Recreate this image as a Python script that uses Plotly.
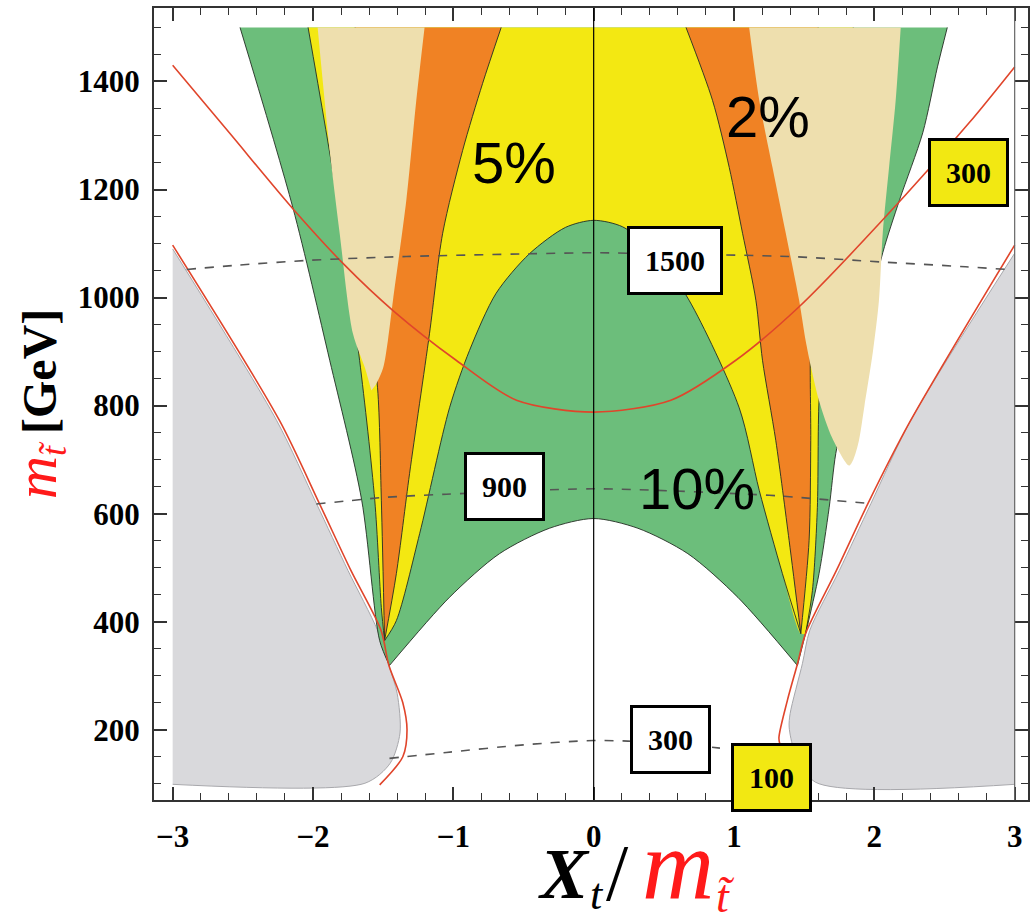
import plotly.graph_objects as go

# ---------------- boundary curves (x = X_t/m, y = m_stop in GeV) ----------
# green region: outer left / right edges and lower dome edge
A_L_x = [-2.52, -2.144, -1.881, -1.653, -1.525, -1.455]
A_L_y = [1500, 1167, 884, 625, 365, 319]
A_R_x = [2.52, 2.45, 2.345, 2.18, 2.06, 1.93, 1.80, 1.725, 1.678, 1.606, 1.52, 1.452]
A_R_y = [1500, 1427, 1305, 1181, 1083, 940, 800, 711, 611, 489, 389, 319]
F_x = [-1.455, -1.028, -0.671, -0.315, 0.0, 0.315, 0.671, 1.028, 1.452]
F_y = [319, 445, 526, 573, 591, 573, 526, 445, 319]

# yellow region: outer edges and upper edge of the central green dome
B_L_x = [-2.035, -1.834, -1.668, -1.56, -1.513, -1.49]
B_L_y = [1500, 1193, 884, 625, 426, 365]
B_R_x = [1.51, 1.559, 1.594, 1.606, 1.65, 1.75, 1.85]
B_R_y = [378, 458, 611, 809, 950, 1100, 1500]
E_x = [-1.49, -1.406, -1.24, -1.027, -0.885, -0.695, -0.458, -0.2, 0.0, 0.206, 0.444, 0.68, 1.037, 1.18, 1.345, 1.476]
E_y = [365, 402, 563, 796, 902, 1008, 1081, 1130, 1143, 1131, 1082, 995, 796, 643, 489, 378]

# orange bands
D_L_x = [-0.659, -0.792, -0.934, -1.076, -1.17, -1.312, -1.406, -1.49]
D_L_y = [1500, 1396, 1272, 1119, 933, 674, 489, 365]
O_L_x = [-1.49, -1.513, -1.54, -1.62, -1.70]
O_L_y = [365, 625, 833, 1000, 1500]
D_R_x = [0.658, 0.847, 0.966, 1.061, 1.156, 1.203, 1.298, 1.393, 1.476]
D_R_y = [1500, 1365, 1241, 1119, 995, 884, 735, 550, 378]
O_R_x = [1.476, 1.535, 1.547, 1.547, 1.60, 1.60]
O_R_y = [378, 550, 735, 921, 1050, 1500]

# beige regions
C1_L_x = [-1.967, -1.881, -1.81, -1.715, -1.63, -1.584]
C1_L_y = [1500, 1272, 1119, 933, 870, 828]
C2_L_x = [-1.584, -1.55, -1.50, -1.466, -1.43, -1.335, -1.264, -1.205]
C2_L_y = [828, 840, 870, 921, 995, 1180, 1365, 1500]
C2_R_x = [1.108, 1.18, 1.274, 1.369, 1.464, 1.51, 1.55, 1.606, 1.70, 1.82]
C2_R_y = [1500, 1365, 1241, 1119, 995, 921, 870, 809, 740, 689]
C1_R_x = [1.85, 1.89, 1.93, 1.99, 2.033, 2.06, 2.105, 2.152, 2.188]
C1_R_y = [700, 735, 800, 900, 995, 1119, 1241, 1365, 1500]

# grey excluded regions
G_L_x = [-3.0, -2.26, -1.976, -1.751, -1.54, -1.46, -1.40, -1.38, -1.45, -1.63, -3.0]
G_L_y = [1090, 773, 619, 495, 384, 320, 267, 194, 138, 101, 99]
G_R_x = [3.0, 2.26, 1.976, 1.751, 1.54, 1.488, 1.40, 1.393, 1.43, 1.58, 3.0]
G_R_y = [1082, 773, 619, 495, 384, 323, 230, 205, 162, 103, 99]

# red curves
RU_x = [-3.0, -2.593, -2.142, -1.774, -1.43, -0.98, -0.55, 0.0, 0.55, 1.013, 1.464, 2.057, 2.674, 3.0]
RU_y = [1430, 1304, 1164, 1060, 976, 884, 810, 788, 810, 884, 983, 1143, 1323, 1427]
RL_x = [-3.0, -2.24, -1.955, -1.73, -1.515, -1.46, -1.36, -1.33, -1.36, -1.525]
RL_y = [1097, 773, 619, 495, 384, 320, 250, 200, 150, 98]
RR_x = [3.0, 2.247, 1.955, 1.73, 1.51, 1.45, 1.38, 1.32, 1.33, 1.36]
RR_y = [1097, 767, 619, 495, 378, 320, 254, 185, 170, 140]

# dashed contours
K1500_x = [-2.9, -2.534, -2.023, -1.335, -0.458, 0.0, 0.458, 1.393, 2.045, 2.65, 2.95]
K1500_y = [1052, 1060, 1069, 1076, 1081, 1083, 1081, 1076, 1066, 1057, 1052]
K900_x = [-1.976, -1.738, -1.5, -1.05, 0.0, 1.25, 1.464, 1.96]
K900_y = [618, 624, 630, 636, 646, 634, 630, 619]
K300_x = [-1.455, -1.05, -0.5, 0.0, 0.5, 0.9]
K300_y = [147, 158, 172, 180, 176, 166]

# labels
box_text = ["1500", "900", "300", "300", "100"]
box_x = [0.58, -0.635, 0.546, 2.674, 1.27]
box_y = [1069, 650, 182, 1231, 112]
box_bg = ["white", "white", "white", "#F2E812", "#F2E812"]
pct_text = ["5%", "2%", "10%"]
pct_x = [-0.57, 1.243, 0.737]
pct_y = [1250, 1336, 647]

# x-axis title pieces: text, size, colour, bold, italic, paper x (left), paper y (middle)
xt_text = ["X", "t", "/", "m", "t\u0303"]
xt_size = [72, 44, 80, 100, 46]
xt_color = ["black", "black", "black", "#FF1A1A", "#FF1A1A"]
xt_bold = [True, False, False, False, False]
xt_italic = [True, True, False, True, True]
xt_px = [0.4316, 0.4909, 0.5092, 0.5503, 0.6348]
xt_py = [-0.0931, -0.1199, -0.0922, -0.0811, -0.1219]

GREEN = "#6CBE7B"
YELLOW = "#F3E812"
ORANGE = "#F08224"
BEIGE = "#EEDFAE"
GREY = "#D9D9DC"
RED = "#E0452B"
EDGE = "rgba(35,45,35,0.9)"
SM = 0.8

fig = go.Figure()


def poly(xs, ys, color, line_color=None, lw=0):
    fig.add_trace(go.Scatter(x=xs, y=ys, mode="lines", fill="toself", fillcolor=color,
                             line=dict(color=line_color or color, width=lw, shape="spline",
                                       smoothing=SM),
                             hoverinfo="skip", showlegend=False))


def curve(xs, ys, color, width=1.0, dash="solid"):
    fig.add_trace(go.Scatter(x=xs, y=ys, mode="lines",
                             line=dict(color=color, width=width, dash=dash, shape="spline",
                                       smoothing=SM),
                             hoverinfo="skip", showlegend=False))


# grey regions (bottom layer)
poly(G_L_x, G_L_y, GREY, "#A8A8AC", 1)
poly(G_R_x, G_R_y, GREY, "#A8A8AC", 1)

# green
poly(A_L_x + F_x + A_R_x[::-1], A_L_y + F_y + A_R_y[::-1], GREEN)
# yellow
poly(B_L_x + E_x + B_R_x, B_L_y + E_y + B_R_y, YELLOW)
# orange
poly(D_L_x + O_L_x, D_L_y + O_L_y, ORANGE)
poly(D_R_x + O_R_x, D_R_y + O_R_y, ORANGE)

# region edges
for cx, cy in [(A_L_x, A_L_y), (A_R_x, A_R_y), (F_x, F_y), (B_L_x, B_L_y), (B_R_x, B_R_y),
               (E_x, E_y), (D_L_x, D_L_y), (O_L_x, O_L_y), (D_R_x, D_R_y), (O_R_x, O_R_y)]:
    curve(cx, cy, EDGE, 1.0)

# beige on top
poly(C1_L_x + C2_L_x, C1_L_y + C2_L_y, BEIGE)
poly(C2_R_x + C1_R_x, C2_R_y + C1_R_y, BEIGE)

# red curves
curve(RU_x, RU_y, RED, 1.6)
curve(RL_x, RL_y, RED, 1.6)
curve(RR_x, RR_y, RED, 1.6)

# dashed contours
for cx, cy in [(K1500_x, K1500_y), (K900_x, K900_y), (K300_x, K300_y)]:
    curve(cx, cy, "#555555", 1.6, dash="dash")

# vertical lines
fig.add_shape(type="line", x0=0, x1=0, y0=0, y1=1, xref="x", yref="paper",
              line=dict(color="black", width=1.2))
fig.add_shape(type="line", x0=3, x1=3, y0=0, y1=1, xref="x", yref="paper",
              line=dict(color="#666666", width=1.2))

# boxed contour labels
for t, x, y, bg in zip(box_text, box_x, box_y, box_bg):
    fig.add_annotation(x=x, y=y, text=t, showarrow=False, bgcolor=bg, bordercolor="black",
                       borderwidth=3, borderpad=15,
                       font=dict(family="Liberation Serif", size=30, color="black", weight="bold"))

# percentage labels
for t, x, y in zip(pct_text, pct_x, pct_y):
    fig.add_annotation(x=x, y=y, text=t, showarrow=False,
                       font=dict(family="Liberation Sans", size=58, color="black"))

# x-axis title built from pieces
for t, s, c, b, it, px, py in zip(xt_text, xt_size, xt_color, xt_bold, xt_italic, xt_px, xt_py):
    fig.add_annotation(xref="paper", yref="paper", x=px, y=py, xanchor="left",
                       yanchor="middle", text=t, showarrow=False, borderpad=6,
                       font=dict(family="Liberation Serif", size=s, color=c,
                                 weight="bold" if b else "normal",
                                 style="italic" if it else "normal"))

tickfont = dict(family="Liberation Serif", size=31, color="black", weight="bold")
axis_common = dict(showgrid=False, zeroline=False, showline=True, linecolor="#333333",
                   linewidth=2, mirror="ticks", ticks="inside", ticklen=13, tickwidth=1.5,
                   tickcolor="#333333", tickfont=tickfont)

y_title = ("<span style='color:#FF1A1A;font-size:60px'><i>m</i></span>"
           "<sub><span style='color:#FF1A1A;font-size:36px'><i>t\u0303</i></span></sub>"
           " <b>[GeV]</b>")

fig.update_layout(
    width=1030, height=917,
    margin=dict(l=154, r=0, t=8, b=117),
    plot_bgcolor="white", paper_bgcolor="white",
    xaxis=dict(range=[-3.133, 3.095], tick0=0, dtick=1,
               minor=dict(ticks="inside", ticklen=7, tickwidth=1.2, tickcolor="#333333",
                          dtick=0.2, tick0=0, showgrid=False),
               ticklabelstandoff=8,
               **axis_common),
    yaxis=dict(range=[70, 1536], tick0=0, dtick=200,
               minor=dict(ticks="inside", ticklen=7, tickwidth=1.2, tickcolor="#333333",
                          dtick=50, tick0=0, showgrid=False),
               title=dict(text=y_title,
                          font=dict(family="Liberation Serif", size=48, color="black"),
                          standoff=6),
               ticklabelstandoff=6,
               **axis_common),
)

fig.write_html("out.html")
